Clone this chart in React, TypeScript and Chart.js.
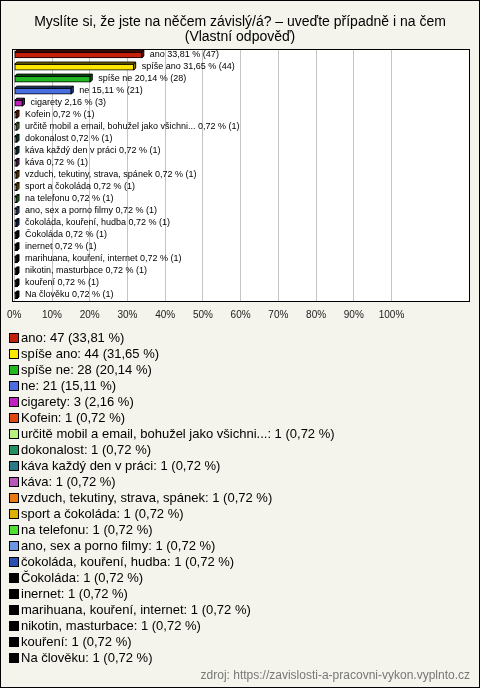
import React, { useEffect, useRef } from "react";
import { Chart, registerables } from "chart.js";

Chart.register(...registerables);

const TITLE_LINES = [
  "Myslíte si, že jste na něčem závislý/á? – uveďte případně i na čem",
  "(Vlastní odpověď)",
];

const categories = [
  "ano",
  "spíše ano",
  "spíše ne",
  "ne",
  "cigarety",
  "Kofein",
  "určitě mobil a email, bohužel jako všichni...",
  "dokonalost",
  "káva každý den v práci",
  "káva",
  "vzduch, tekutiny, strava, spánek",
  "sport a čokoláda",
  "na telefonu",
  "ano, sex a porno filmy",
  "čokoláda, kouření, hudba",
  "Čokoláda",
  "inernet",
  "marihuana, kouření, internet",
  "nikotin, masturbace",
  "kouření",
  "Na člověku",
];

const counts = [47, 44, 28, 21, 3, 1, 1, 1, 1, 1, 1, 1, 1, 1, 1, 1, 1, 1, 1, 1, 1];

const percents = [
  33.81, 31.65, 20.14, 15.11, 2.16, 0.72, 0.72, 0.72, 0.72, 0.72, 0.72, 0.72,
  0.72, 0.72, 0.72, 0.72, 0.72, 0.72, 0.72, 0.72, 0.72,
];

const colors = [
  "#c4200c",
  "#ffe800",
  "#22b822",
  "#4a6ee0",
  "#c020c0",
  "#e04810",
  "#b8f080",
  "#229060",
  "#2a7888",
  "#b858b8",
  "#e87a10",
  "#e0b000",
  "#50e030",
  "#6a98e0",
  "#2850b0",
  "#000000",
  "#000000",
  "#000000",
  "#000000",
  "#000000",
  "#000000",
];

const xTicks = [0, 10, 20, 30, 40, 50, 60, 70, 80, 90, 100];

const SOURCE = "zdroj: https://zavislosti-a-pracovni-vykon.vyplnto.cz";

const FONT = "'Liberation Sans', Arial, sans-serif";
const fmt = (v: number) => v.toFixed(2).replace(".", ",");

function shade(hex: string, f: number) {
  const n = parseInt(hex.slice(1), 16);
  const r = Math.round(((n >> 16) & 255) * f);
  const g = Math.round(((n >> 8) & 255) * f);
  const b = Math.round((n & 255) * f);
  return `rgb(${r},${g},${b})`;
}

const DEPTH = 2;

const decorPlugin = {
  id: "decor",
  beforeDraw(chart: any) {
    const { ctx, chartArea } = chart;
    ctx.save();
    ctx.fillStyle = "#f4f4ec";
    ctx.fillRect(0, 0, chart.width, chart.height);
    ctx.fillStyle = "#ffffff";
    ctx.fillRect(
      chartArea.left,
      chartArea.top,
      chartArea.right - chartArea.left,
      chartArea.bottom - chartArea.top
    );
    ctx.restore();
  },
  afterDatasetsDraw(chart: any) {
    const { ctx } = chart;
    const meta = chart.getDatasetMeta(0);
    ctx.save();
    meta.data.forEach((bar: any, i: number) => {
      const x0 = Math.min(bar.base, bar.x);
      const x1 = Math.max(bar.base, bar.x);
      const yT = bar.y - bar.height / 2;
      const yB = bar.y + bar.height / 2;
      const d = DEPTH;
      ctx.fillStyle = shade(colors[i], 0.6);
      ctx.strokeStyle = "#000";
      ctx.lineWidth = 1;
      ctx.beginPath();
      ctx.moveTo(x0, yT);
      ctx.lineTo(x0 + d, yT - d);
      ctx.lineTo(x1 + d, yT - d);
      ctx.lineTo(x1, yT);
      ctx.closePath();
      ctx.fill();
      ctx.stroke();
      ctx.beginPath();
      ctx.moveTo(x1, yT);
      ctx.lineTo(x1 + d, yT - d);
      ctx.lineTo(x1 + d, yB - d);
      ctx.lineTo(x1, yB);
      ctx.closePath();
      ctx.fill();
      ctx.stroke();
      ctx.fillStyle = "#000";
      ctx.font = `9px ${FONT}`;
      ctx.textBaseline = "middle";
      ctx.textAlign = "left";
      ctx.fillText(
        `${categories[i]} ${fmt(percents[i])} % (${counts[i]})`,
        x1 + d + 6,
        bar.y - 1
      );
    });
    ctx.restore();
  },
  afterDraw(chart: any) {
    const { ctx, chartArea } = chart;
    ctx.save();
    ctx.strokeStyle = "#000";
    ctx.lineWidth = 1;
    ctx.strokeRect(
      chartArea.left + 0.5,
      chartArea.top + 0.5,
      chartArea.right - chartArea.left - 1,
      chartArea.bottom - chartArea.top - 1
    );
    ctx.fillStyle = "#000";
    ctx.font = `14px ${FONT}`;
    ctx.textAlign = "center";
    ctx.textBaseline = "alphabetic";
    ctx.fillText(TITLE_LINES[0], 240, 26);
    ctx.fillText(TITLE_LINES[1], 240, 41);
    ctx.textAlign = "left";
    ctx.textBaseline = "middle";
    ctx.font = `13px ${FONT}`;
    categories.forEach((c, i) => {
      const cy = 338 + i * 16;
      ctx.fillStyle = colors[i];
      ctx.fillRect(10, cy - 4, 8, 8);
      ctx.strokeStyle = "#000";
      ctx.strokeRect(9.5, cy - 4.5, 9, 9);
      ctx.fillStyle = "#000";
      ctx.fillText(`${c}: ${counts[i]} (${fmt(percents[i])} %)`, 21, cy);
    });
    ctx.textAlign = "right";
    ctx.fillStyle = "#777";
    ctx.font = `12px ${FONT}`;
    ctx.fillText(SOURCE, 470, 676);
    ctx.strokeStyle = "#000";
    ctx.strokeRect(0.5, 0.5, chart.width - 1, chart.height - 1);
    ctx.restore();
  },
};

export default function App() {
  const ref = useRef<HTMLCanvasElement | null>(null);
  useEffect(() => {
    if (!ref.current) return;
    const chart = new Chart(ref.current, {
      type: "bar",
      data: {
        labels: categories,
        datasets: [
          {
            data: percents,
            backgroundColor: colors,
            borderColor: "#000",
            borderWidth: 1,
            barThickness: 6,
            borderSkipped: false,
          },
        ],
      },
      options: {
        indexAxis: "y",
        responsive: false,
        animation: false,
        devicePixelRatio: 1,
        layout: { padding: { left: 10, right: 10, top: 49, bottom: 366 } },
        plugins: {
          legend: { display: false },
          tooltip: { enabled: false },
          title: { display: false },
        },
        scales: {
          y: { display: false },
          x: {
            min: -0.6,
            max: 120.8,
            afterBuildTicks: (scale: any) => {
              scale.ticks = xTicks.map((v) => ({ value: v }));
            },
            afterFit: (scale: any) => {
              scale.height = 20;
            },
            grid: { color: "#c4c4c4", drawTicks: false },
            border: { display: false },
            ticks: {
              font: { family: FONT, size: 10 },
              color: "#222",
              padding: 7,
              maxRotation: 0,
              autoSkip: false,
              callback: (v: any) => `${v}%`,
            },
          },
        },
      },
      plugins: [decorPlugin],
    });
    return () => chart.destroy();
  }, []);
  return (
    <div style={{ position: "absolute", left: 0, top: 0, width: 480, height: 688 }}>
      <canvas ref={ref} width={480} height={688} style={{ display: "block" }} />
    </div>
  );
}
